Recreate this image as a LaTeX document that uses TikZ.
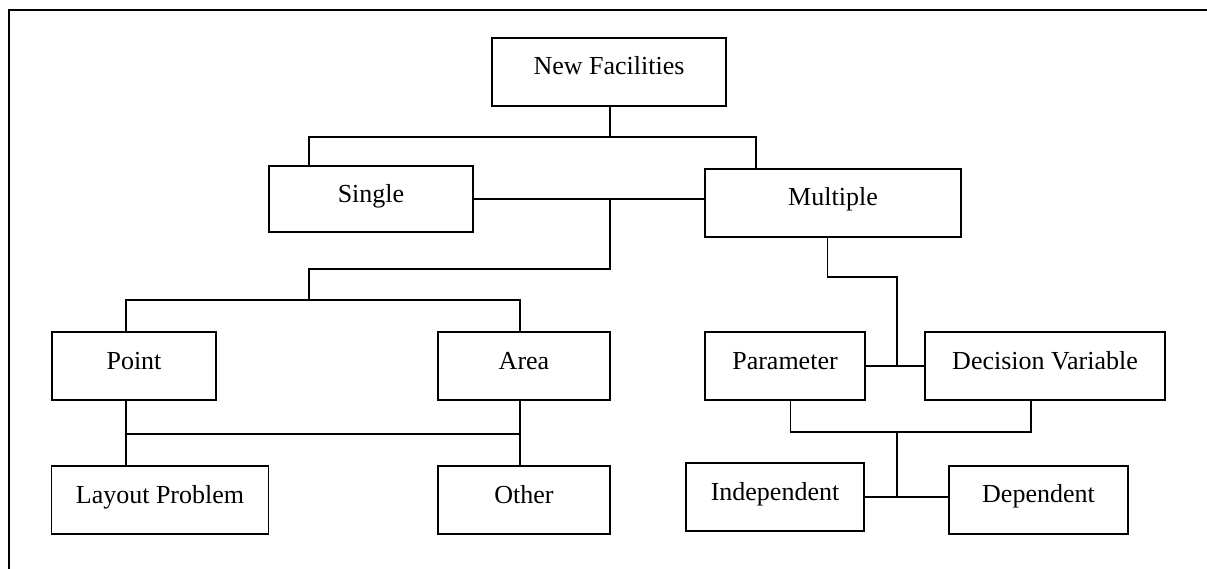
\documentclass[tikz,border=0pt]{standalone}
\usepackage{fontspec}
\setmainfont{Liberation Serif}
\begin{document}
\begin{tikzpicture}[x=1pt,y=-1pt,
  boxnode/.style={draw,line width=1.6pt,rectangle,inner sep=0pt,
    minimum height=68pt,text height=15pt,text depth=9pt,
    font=\fontsize{26}{30}\selectfont},
  conn/.style={line width=1.6pt}]
\useasboundingbox (0,0) rectangle (1207,569);
\draw[line width=2pt] (9,569) -- (9,10) -- (1207,10);

\node[boxnode,minimum width=234pt] (nf) at (609,72) {New Facilities};
\node[boxnode,minimum width=204pt,minimum height=66pt,text depth=7pt] (single) at (371,199) {Single};
\node[boxnode,minimum width=256pt,minimum height=68pt,text depth=10pt] (multiple) at (833,203) {Multiple};
\node[boxnode,minimum width=164pt] (point) at (134,366) {Point};
\node[boxnode,minimum width=172pt] (area) at (524,366) {Area};
\node[boxnode,minimum width=160pt] (param) at (785,366) {Parameter};
\node[boxnode,minimum width=240pt] (decvar) at (1045,366) {Decision Variable};
\node[boxnode,minimum width=217pt] (layout) at (160,500) {Layout Problem};
\node[boxnode,minimum width=172pt] (other) at (524,500) {Other};
\node[boxnode,minimum width=178pt] (indep) at (775,497) {Independent};
\node[boxnode,minimum width=179pt,text depth=11pt] (dep) at (1038.5,500) {Dependent};

\coordinate (j1) at (610,137);
\coordinate (jL) at (309,137);
\coordinate (jR) at (756,137);
\coordinate (k1) at (610,269);
\coordinate (k2) at (309,269);
\coordinate (b1) at (309,300);
\coordinate (bL) at (126,300);
\coordinate (bR) at (520,300);
\coordinate (cL) at (126,434);
\coordinate (cR) at (520,434);
\coordinate (m1) at (827.5,277);
\coordinate (m2) at (897,277);
\coordinate (pL) at (790.6,432);
\coordinate (pR) at (1031,432);
\coordinate (q) at (897,432);

\draw[conn] (nf.south -| j1) -- (j1);
\draw[conn] (single.north -| jL) -- (jL) -- (jR) -- (multiple.north -| jR);
\draw[conn] (single.east) -- (single.east -| multiple.west);
\draw[conn] (single.east -| k1) -- (k1) -- (k2) -- (b1);
\draw[conn] (point.north -| bL) -- (bL) -- (bR) -- (area.north -| bR);
\draw[conn] (point.south -| bL) -- (layout.north -| bL);
\draw[conn] (area.south -| bR) -- (other.north -| bR);
\draw[conn] (cL) -- (cR);
\draw[conn] (multiple.south -| m1) -- (m1) -- (m2) -- (m2 |- param.east);
\draw[conn] (param.east) -- (param.east -| decvar.west);
\draw[conn] (param.south -| pL) -- (pL) -- (pR) -- (decvar.south -| pR);
\draw[conn] (q) -- (q |- indep.east);
\draw[conn] (indep.east) -- (indep.east -| dep.west);
\end{tikzpicture}
\end{document}
